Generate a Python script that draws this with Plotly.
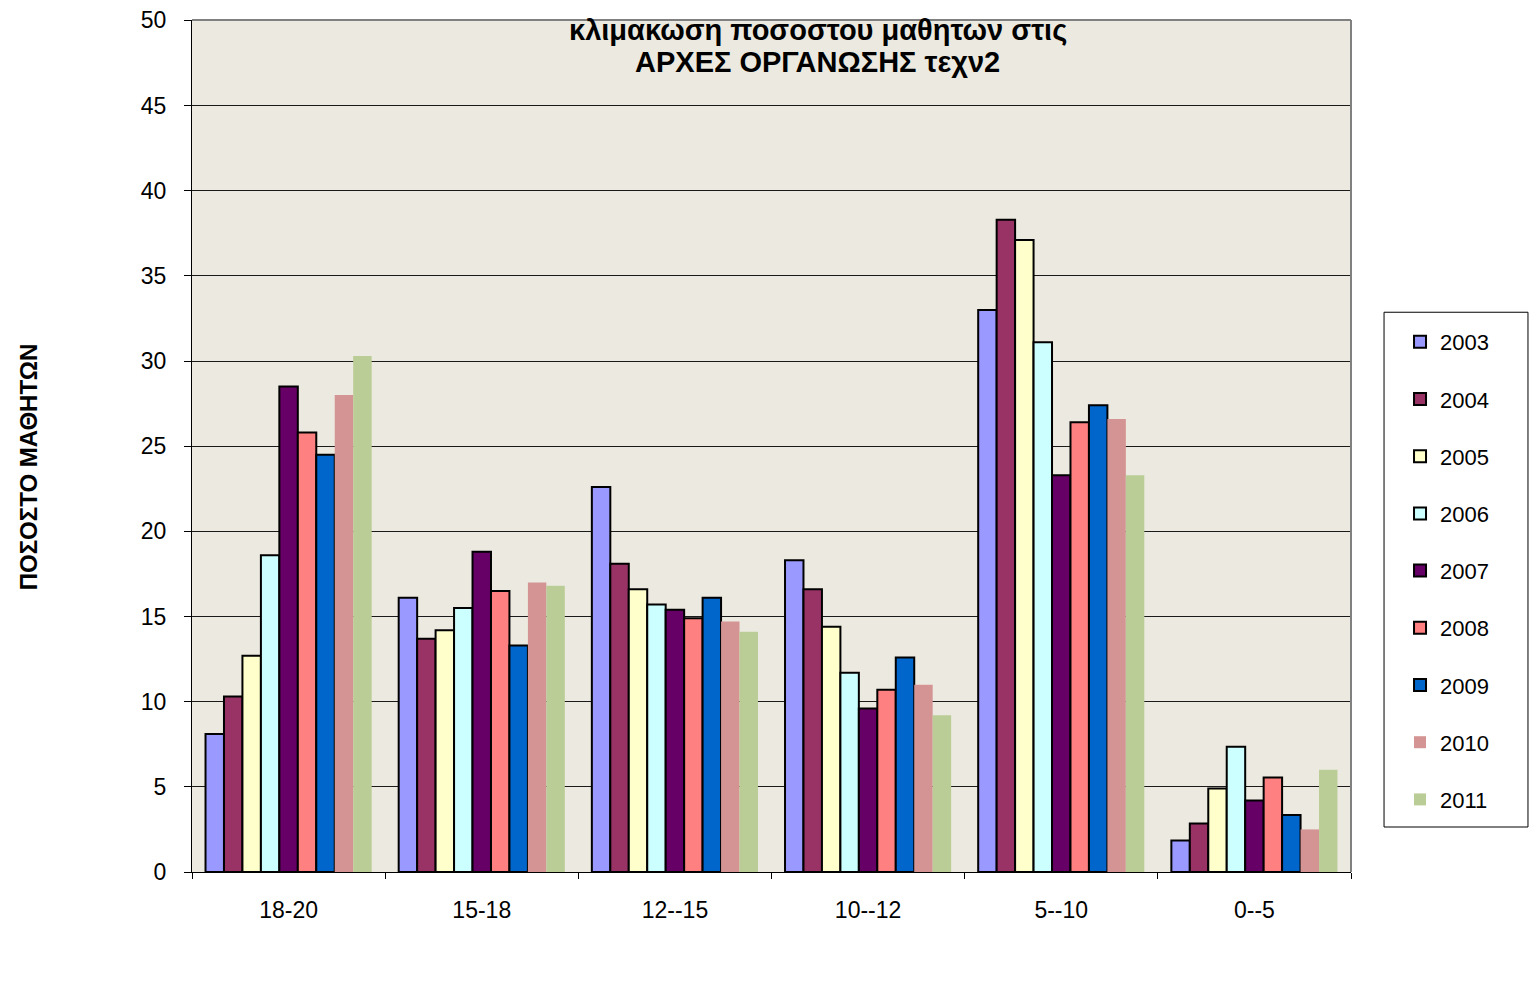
import plotly.graph_objects as go

categories = ["18-20", "15-18", "12--15", "10--12", "5--10", "0--5"]
years = ["2003", "2004", "2005", "2006", "2007", "2008", "2009", "2010", "2011"]

v2003 = [8.1, 16.1, 22.6, 18.3, 33.0, 1.85]
v2004 = [10.3, 13.7, 18.1, 16.6, 38.3, 2.85]
v2005 = [12.7, 14.2, 16.6, 14.4, 37.1, 4.9]
v2006 = [18.6, 15.5, 15.7, 11.7, 31.1, 7.35]
v2007 = [28.5, 18.8, 15.4, 9.6, 23.3, 4.2]
v2008 = [25.8, 16.5, 14.9, 10.7, 26.4, 5.55]
v2009 = [24.5, 13.3, 16.1, 12.6, 27.4, 3.35]
v2010 = [28.0, 17.0, 14.7, 11.0, 26.6, 2.5]
v2011 = [30.3, 16.8, 14.1, 9.2, 23.3, 6.0]

ytickvals = [0, 5, 10, 15, 20, 25, 30, 35, 40, 45, 50]

values = [v2003, v2004, v2005, v2006, v2007, v2008, v2009, v2010, v2011]
colors = ["#9999FF", "#993366", "#FFFFCC", "#CCFFFF", "#660066",
          "#FF8080", "#0066CC", "#D49494", "#BBCD96"]
bordered = [True] * 7 + [False] * 2

title_line1 = "κλιμακωση ποσοστου μαθητων στις"
title_line2 = "ΑΡΧΕΣ ΟΡΓΑΝΩΣΗΣ τεχν2"
ytitle = "ΠΟΣΟΣΤΟ ΜΑΘΗΤΩΝ"

FONT = "Liberation Sans, Arial, sans-serif"

fig = go.Figure()
for i, (yr, vals) in enumerate(zip(years, values)):
    fig.add_trace(go.Bar(
        x=categories, y=vals, name=yr,
        legendgroup=yr,
        marker=dict(color=colors[i],
                    line=dict(color="#000000" if bordered[i] else colors[i],
                              width=2 if bordered[i] else 0)),
    ))

YMAX = 50.02

# plot area on screen: x 192..1351, y 20..872 (page has 8px body offset)
fig.update_layout(
    width=1537, height=997,
    margin=dict(l=184, r=194, t=12, b=133, autoexpand=False),
    paper_bgcolor="#FFFFFF",
    plot_bgcolor="#ECEAE0",
    barmode="group",
    bargap=0.14,
    bargroupgap=0,
    font=dict(family=FONT, size=22, color="#000000"),
    showlegend=True,
    legend=dict(
        x=1.0423, xanchor="left", y=0.6467, yanchor="top",
        borderwidth=0, bgcolor="rgba(0,0,0,0)",
        traceorder="grouped", tracegroupgap=25.6,
        font=dict(family=FONT, size=22),
        itemwidth=30,
    ),
    xaxis=dict(
        type="category", automargin=False,
        showline=True, linecolor="#000000", linewidth=1,
        ticks="outside", tickson="boundaries", ticklen=6, tickcolor="#000000",
        showgrid=False,
        tickfont=dict(family=FONT, size=23),
        ticklabelstandoff=17,
    ),
    yaxis=dict(
        range=[0, YMAX], tickvals=ytickvals, automargin=False,
        showline=True, linecolor="#000000", linewidth=1,
        ticks="outside", ticklen=7, tickcolor="#000000",
        showgrid=True, gridcolor="#1a1a1a", gridwidth=1,
        zeroline=False,
        tickfont=dict(family=FONT, size=23),
        ticklabelstandoff=13,
        ticklabeloverflow="allow",
    ),
    annotations=[
        dict(text="<b>" + title_line1 + "</b>",
             x=0.540, y=(872 - 30) / 852 * YMAX, xref="paper", yref="y",
             xanchor="center", yanchor="middle",
             showarrow=False, font=dict(family=FONT, size=29)),
        dict(text="<b>" + title_line2 + "</b>",
             x=0.540, y=(872 - 62) / 852 * YMAX, xref="paper", yref="y",
             xanchor="center", yanchor="middle",
             showarrow=False, font=dict(family=FONT, size=29)),
        dict(text="<b>" + ytitle + "</b>",
             x=-0.1415, y=0.475, xref="paper", yref="paper",
             xanchor="center", yanchor="middle", textangle=-90,
             showarrow=False, font=dict(family=FONT, size=24)),
    ],
    shapes=[
        dict(type="line", xref="paper", yref="paper", x0=0, x1=1, y0=1, y1=1,
             line=dict(color="#808080", width=2)),
        dict(type="line", xref="paper", yref="paper", x0=1, x1=1, y0=0, y1=1,
             line=dict(color="#808080", width=2)),
        dict(type="rect", xref="paper", yref="paper",
             x0=1.0285, x1=1.1527, y0=0.0528, y1=0.657,
             line=dict(color="#000000", width=1), fillcolor="rgba(0,0,0,0)"),
    ],
)

fig.write_html("out.html")
